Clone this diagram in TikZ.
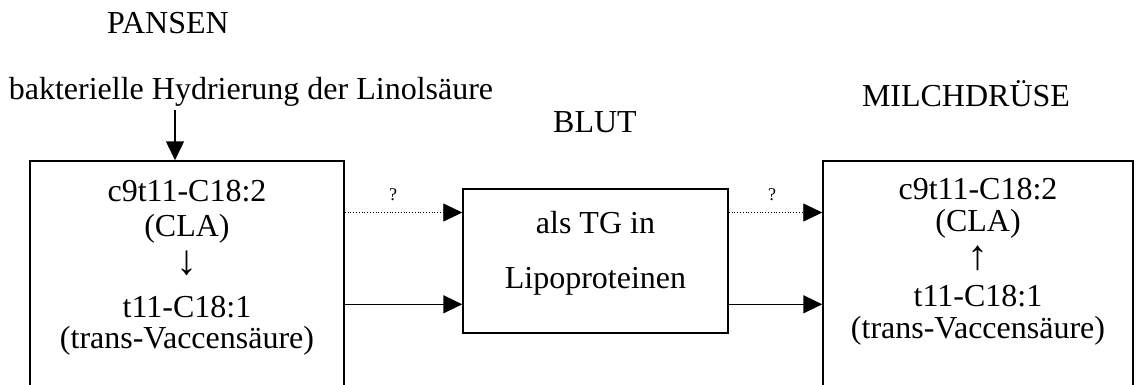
\documentclass[tikz,border=0pt]{standalone}
\usepackage{fontspec}
\setmainfont{Liberation Serif}
\usetikzlibrary{arrows.meta,positioning}

\newcommand{\bigarrow}[1]{\smash{\fontsize{42}{35}\selectfont #1}}

\tikzset{
    organ/.style={draw, line width=1.5pt, minimum width=#1, minimum height=240pt, inner sep=0pt},
    bigtext/.style={font=\fontsize{32}{35}\selectfont, align=center},
    qmark/.style={font=\fontsize{18}{20}\selectfont},
    flow/.style={line width=1.5pt, -{Triangle[length=19pt,width=18pt]}},
    maybe/.style={line width=0.8pt, dotted, -{Triangle[length=19pt,width=18pt]}}
}

\begin{document}
\begin{tikzpicture}[x=1pt,y=-1pt]
    \useasboundingbox (0,0) rectangle (1136,384);

    \node (pansen) [bigtext] at (168,23) {PANSEN};
    \node (hydr) [bigtext] at (251,92) {bakterielle Hydrierung der Linolsäure};
    \node (blut) [bigtext] at (595,122) {BLUT};
    \node (milch) [bigtext] at (966,94) {MILCHDRÜSE};

    \node (rumen) [organ=314pt] at (187,281) {};
    \node (rumentext) [bigtext, anchor=base] at (187,348) {c9t11-C18:2\\(CLA)\\[3pt]\bigarrow{↓}\\[8pt]t11-C18:1\\[-4pt](trans-Vaccensäure)};

    \node (blood) [draw, line width=1.5pt, minimum width=265pt, minimum height=144pt, inner sep=0pt] at (595.5,261) {};
    \node (bloodtext) [bigtext] at (595.5,253) {als TG in\\[20pt]Lipoproteinen};

    \node (udder) [organ=310pt] at (978,281) {};
    \node (uddertext) [bigtext, anchor=base] at (978,338) {c9t11-C18:2\\[-3pt](CLA)\\[3pt]\bigarrow{↑}\\[2pt]t11-C18:1\\[-3pt](trans-Vaccensäure)};

    \draw [flow] ([xshift=-76pt]hydr.south) -- ([xshift=-76pt]hydr.south |- rumen.north);

    \draw [maybe] (rumen.east |- blood.160) -- (blood.160);
    \draw [flow] (rumen.east |- blood.198) -- (blood.198);
    \draw [maybe] (blood.20) -- (udder.west |- blood.20);
    \draw [flow] (blood.-18) -- (udder.west |- blood.-18);

    \node (q1) [qmark] at (393,195) {?};
    \node (q2) [qmark] at (772,195) {?};
\end{tikzpicture}
\end{document}
